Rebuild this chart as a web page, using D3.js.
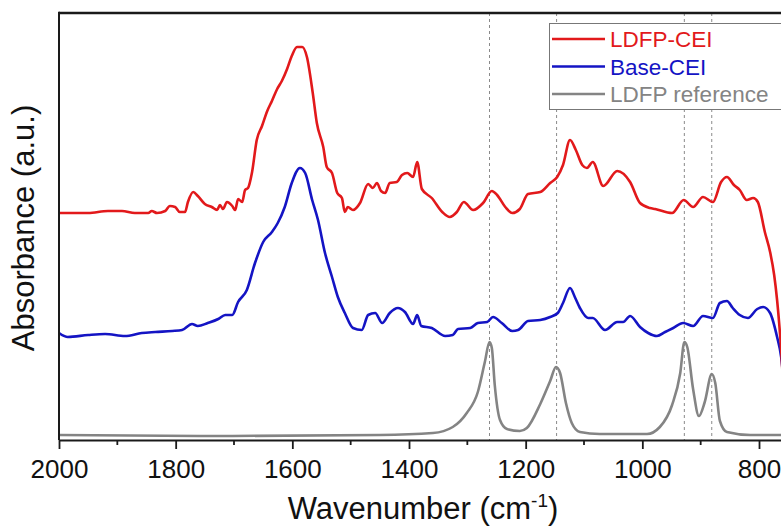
<!DOCTYPE html>
<html>
<head>
<meta charset="utf-8">
<script src="https://cdn.jsdelivr.net/npm/d3@7"></script>
<style>
  html, body { margin: 0; padding: 0; background: #fff; }
  svg { display: block; }
  text { font-family: "Liberation Sans", Arial, sans-serif; }
</style>
</head>
<body>
<svg id="chart" width="781" height="528"></svg>
<script>
// ---- data (wavenumber cm^-1, absorbance a.u. with vertical offsets) ----
const seriesNames = ["LDFP-CEI", "Base-CEI", "LDFP reference"];
const seriesColors = ["#e2191b", "#1414c4", "#848484"];

const ldfpCEI = [
  [2000,2.27],[1950,2.27],[1916,2.29],[1892,2.29],[1870,2.27],[1847,2.27],[1841,2.29],[1832,2.27],
  [1818,2.29],[1810,2.34],[1801,2.33],[1793,2.28],[1784,2.28],[1779,2.38],[1770,2.48],[1762,2.44],
  [1750,2.36],[1738,2.33],[1729,2.30],[1724,2.35],[1719,2.31],[1712,2.38],[1703,2.34],[1698,2.30],
  [1693,2.41],[1686,2.38],[1681,2.50],[1676,2.52],[1669,2.68],[1661,3.00],[1652,3.14],[1643,3.29],
  [1635,3.39],[1626,3.51],[1618,3.59],[1609,3.71],[1601,3.84],[1592,3.93],[1583,3.93],[1575,3.83],
  [1565,3.47],[1558,3.17],[1547,2.93],[1541,2.73],[1532,2.67],[1523,2.47],[1515,2.42],[1510,2.28],
  [1505,2.33],[1496,2.30],[1484,2.37],[1470,2.56],[1462,2.52],[1455,2.57],[1448,2.49],[1441,2.47],
  [1433,2.57],[1421,2.58],[1412,2.65],[1403,2.67],[1393,2.63],[1386,2.78],[1378,2.51],[1361,2.42],
  [1343,2.28],[1330,2.23],[1318,2.28],[1306,2.38],[1290,2.30],[1273,2.37],[1258,2.49],[1249,2.45],
  [1235,2.33],[1223,2.27],[1210,2.31],[1196,2.46],[1175,2.48],[1158,2.57],[1146,2.63],[1136,2.75],
  [1124,3.00],[1114,2.90],[1103,2.75],[1095,2.72],[1085,2.78],[1067,2.54],[1043,2.69],[1021,2.58],
  [1004,2.37],[987,2.32],[978,2.31],[949,2.27],[929,2.40],[913,2.33],[896,2.43],[879,2.38],
  [865,2.58],[855,2.63],[843,2.55],[833,2.50],[821,2.40],[810,2.42],[802,2.38],[790,2.08],
  [781,1.88],[774,1.65],[769,1.40],[762,0.90],[755,0.20]
];

const baseCEI = [
  [2000,1.07],[1985,1.03],[1950,1.05],[1921,1.06],[1887,1.04],[1858,1.07],[1835,1.08],[1806,1.09],
  [1789,1.10],[1772,1.16],[1762,1.14],[1745,1.17],[1727,1.21],[1715,1.25],[1703,1.25],[1693,1.38],
  [1678,1.50],[1664,1.77],[1650,1.98],[1635,2.08],[1625,2.17],[1613,2.33],[1601,2.57],[1587,2.72],
  [1578,2.67],[1566,2.40],[1556,2.20],[1544,1.87],[1532,1.63],[1522,1.43],[1510,1.27],[1496,1.12],
  [1481,1.10],[1470,1.25],[1458,1.27],[1446,1.17],[1433,1.27],[1419,1.32],[1407,1.28],[1393,1.16],
  [1386,1.25],[1379,1.14],[1361,1.12],[1338,1.04],[1325,1.05],[1316,1.11],[1295,1.12],[1282,1.17],
  [1266,1.18],[1256,1.23],[1241,1.17],[1223,1.09],[1213,1.10],[1196,1.19],[1175,1.20],[1158,1.23],
  [1145,1.27],[1136,1.37],[1124,1.52],[1115,1.42],[1107,1.32],[1093,1.22],[1085,1.22],[1064,1.10],
  [1043,1.18],[1033,1.18],[1021,1.24],[1004,1.13],[990,1.07],[975,1.04],[961,1.08],[947,1.12],
  [930,1.17],[913,1.14],[896,1.24],[879,1.22],[867,1.37],[855,1.39],[845,1.32],[833,1.25],
  [819,1.22],[803,1.31],[793,1.33],[781,1.27],[769,1.03],[762,0.83],[755,0.40]
];

const ldfpReference = [
  [2000,0.05],[1758,0.04],[1450,0.05],[1359,0.07],[1325,0.13],[1301,0.27],[1282,0.48],[1270,0.78],
  [1262,0.98],[1258,0.92],[1253,0.55],[1244,0.20],[1232,0.11],[1210,0.09],[1198,0.12],[1175,0.36],
  [1158,0.59],[1148,0.73],[1141,0.67],[1131,0.37],[1121,0.17],[1107,0.08],[1073,0.06],[992,0.06],
  [970,0.13],[949,0.35],[935,0.67],[928,0.98],[923,0.93],[913,0.51],[903,0.24],[893,0.38],
  [881,0.66],[875,0.57],[867,0.19],[855,0.08],[815,0.05],[762,0.05]
];

const referenceLines = [1262, 1147, 928, 881];
const majorTicks = [2000, 1800, 1600, 1400, 1200, 1000, 800];
const minorTicks = [1900, 1700, 1500, 1300, 1100, 900];
const xTitle = "Wavenumber (cm";
const xTitleSup = "-1";
const yTitle = "Absorbance (a.u.)";

// ---- layout ----
const svg = d3.select("#chart");
const mLeft = 59, mRight = 781, mTop = 13, mBottom = 440;

const x = d3.scaleLinear().domain([2000, 762.3]).range([mLeft, mRight]);
const y = d3.scaleLinear().domain([0, 4.27]).range([mBottom, mTop]);

svg.append("defs").append("clipPath").attr("id", "plotClip")
  .append("rect").attr("x", mLeft).attr("y", mTop).attr("width", mRight - mLeft).attr("height", mBottom - mTop);

// reference dashed lines
svg.append("g").selectAll("line").data(referenceLines).join("line")
  .attr("x1", d => x(d)).attr("x2", d => x(d))
  .attr("y1", mTop).attr("y2", mBottom)
  .attr("stroke", "#8a8a8a").attr("stroke-width", 1)
  .attr("stroke-dasharray", "3,3");

// curves
const line = d3.line().x(d => x(d[0])).y(d => y(d[1])).curve(d3.curveMonotoneX);
const allSeries = [ldfpReference, baseCEI, ldfpCEI];
const allColors = [seriesColors[2], seriesColors[1], seriesColors[0]];
const g = svg.append("g").attr("clip-path", "url(#plotClip)");
allSeries.forEach((s, i) => {
  g.append("path").datum(s)
    .attr("d", line)
    .attr("fill", "none")
    .attr("stroke", allColors[i])
    .attr("stroke-width", 2.6)
    .attr("stroke-linejoin", "round")
    .attr("stroke-linecap", "round");
});

// frame: top border and left axis
svg.append("line").attr("x1", mLeft).attr("x2", mRight).attr("y1", mTop).attr("y2", mTop)
  .attr("stroke", "#1a1a1a").attr("stroke-width", 2.5);
svg.append("line").attr("x1", mLeft).attr("x2", mLeft).attr("y1", mTop - 1.2).attr("y2", mBottom)
  .attr("stroke", "#1a1a1a").attr("stroke-width", 2);

// x axis
const xAxis = d3.axisBottom(x).tickValues(majorTicks).tickSize(9).tickSizeOuter(0).tickPadding(11)
  .tickFormat(d3.format("d"));
const ax = svg.append("g").attr("transform", `translate(0,${mBottom})`).call(xAxis);
ax.select(".domain").attr("stroke", "#1a1a1a").attr("stroke-width", 2.2);
ax.selectAll(".tick line").attr("stroke", "#1a1a1a").attr("stroke-width", 1.8);
ax.selectAll(".tick text").attr("font-size", 26).attr("fill", "#111")
  .attr("font-family", "'Liberation Sans', Arial, sans-serif");

svg.append("g").selectAll("line").data(minorTicks).join("line")
  .attr("x1", d => x(d)).attr("x2", d => x(d))
  .attr("y1", mBottom).attr("y2", mBottom + 5)
  .attr("stroke", "#1a1a1a").attr("stroke-width", 1.8);

// axis titles
const xt = svg.append("text")
  .attr("x", (mLeft + mRight) / 2 + 3).attr("y", 519)
  .attr("text-anchor", "middle").attr("font-size", 31).attr("fill", "#111");
xt.append("tspan").text(xTitle);
xt.append("tspan").text(xTitleSup).attr("font-size", 19).attr("dy", -12);
xt.append("tspan").text(")").attr("dy", 12);

svg.append("text")
  .attr("transform", `translate(34,228) rotate(-90)`)
  .attr("text-anchor", "middle").attr("font-size", 31).attr("fill", "#111")
  .text(yTitle);

// legend
const lg = svg.append("g");
lg.append("rect").attr("x", 549.5).attr("y", 23.5).attr("width", 240).attr("height", 86)
  .attr("fill", "#fff").attr("stroke", "#777").attr("stroke-width", 1);
seriesNames.forEach((name, i) => {
  const yy = 39 + i * 27.5;
  lg.append("line").attr("x1", 552).attr("x2", 605).attr("y1", yy).attr("y2", yy)
    .attr("stroke", seriesColors[i]).attr("stroke-width", 2.6);
  lg.append("text").attr("x", 610).attr("y", yy + 8).attr("font-size", 22.5)
    .attr("fill", seriesColors[i]).text(name);
});
</script>
</body>
</html>
